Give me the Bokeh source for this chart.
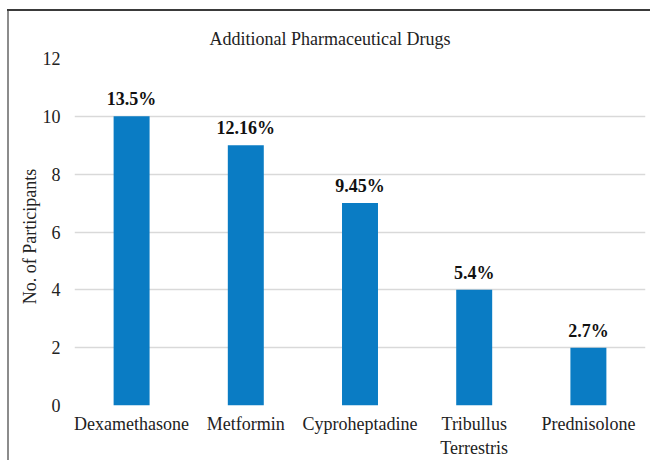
from bokeh.plotting import figure
from bokeh.models import FactorRange, Range1d, FixedTicker, ColumnDataSource, Title
from bokeh.core.properties import value
from bokeh.embed import file_html
from bokeh.resources import INLINE

drugs = ["Dexamethasone", "Metformin", "Cyproheptadine", "Tribullus\nTerrestris", "Prednisolone"]
participants = [10, 9, 7, 4, 2]
percent_labels = ["13.5%", "12.16%", "9.45%", "5.4%", "2.7%"]
y_ticks = [0, 2, 4, 6, 8, 10, 12]

FONT = "Liberation Serif"

p = figure(width=650, height=460, x_range=FactorRange(*drugs), y_range=Range1d(0, 12),
           output_backend="svg", toolbar_location=None,
           min_border_left=74, min_border_right=5, min_border_top=58, min_border_bottom=40)

# chart border (left and top edges, as in the cropped reference), drawn behind a transparent canvas border
p.border_fill_alpha = 0
p.styles = {
    "background": ("linear-gradient(#3a3a3a, #3a3a3a) 7px 9px / 100% 2px no-repeat, "
                   "linear-gradient(#8c8c8c, #8c8c8c) 7px 9px / 2px 100% no-repeat, white")
}

t = Title(text="Additional Pharmaceutical Drugs", align="left", offset=135,
          text_font=FONT, text_font_size="18px", text_font_style="normal",
          text_color="#222222", standoff=20)
p.add_layout(t, "above")

src = ColumnDataSource(dict(x=drugs, top=participants, lab=percent_labels))
p.vbar(x="x", top="top", width=0.315, source=src, color="#0A7CC4", line_color=None)
p.text(x="x", y="top", text="lab", source=src, text_align="center", text_baseline="bottom",
       y_offset=-7, text_font=value(FONT), text_font_size="18px", text_font_style="bold",
       text_color="#111111")

p.outline_line_color = None
p.background_fill_color = "white"
p.xgrid.grid_line_color = None
p.ygrid.ticker = FixedTicker(ticks=y_ticks)
p.ygrid.grid_line_color = "#d9d9d9"
p.ygrid.grid_line_width = 1.5

p.yaxis.ticker = FixedTicker(ticks=y_ticks)
p.yaxis.axis_line_color = None
p.yaxis.major_tick_line_color = None
p.yaxis.minor_tick_line_color = None
p.yaxis.major_tick_out = 0
p.yaxis.major_tick_in = 0
p.yaxis.major_label_standoff = 14
p.yaxis.major_label_text_font = FONT
p.yaxis.major_label_text_font_size = "18px"
p.yaxis.major_label_text_color = "#222222"
p.yaxis.axis_label = "No.  of  Participants"
p.yaxis.axis_label_text_font = FONT
p.yaxis.axis_label_text_font_size = "18px"
p.yaxis.axis_label_text_font_style = "normal"
p.yaxis.axis_label_text_color = "#222222"
p.yaxis.axis_label_standoff = 0

p.xaxis.axis_line_color = None
p.xaxis.major_tick_line_color = None
p.xaxis.major_tick_out = 0
p.xaxis.major_tick_in = 0
p.xaxis.major_label_standoff = 8
p.xaxis.major_label_text_font = FONT
p.xaxis.major_label_text_font_size = "18px"
p.xaxis.major_label_text_color = "#222222"

open("out.html", "w").write(file_html(p, INLINE))
